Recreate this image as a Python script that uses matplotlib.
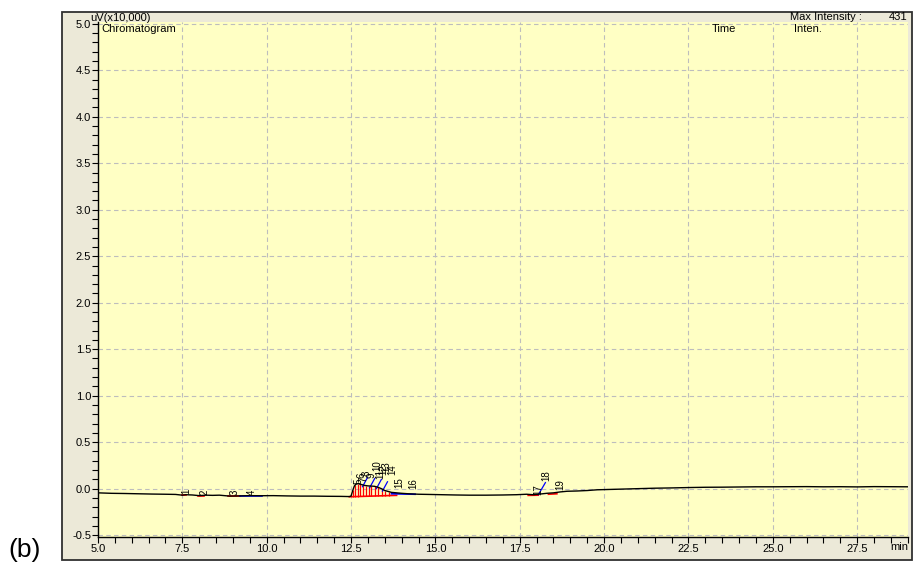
import numpy as np
import matplotlib.pyplot as plt
from matplotlib.patches import Rectangle
from matplotlib.ticker import MultipleLocator

plt.rcParams['font.family'] = ['Liberation Sans', 'DejaVu Sans']

# detector trace, intensity in uV x 10,000
time_min = [5.0, 5.4, 5.8, 6.2, 6.6, 7.0, 7.3, 7.5, 7.6, 7.8, 8.0, 8.2, 8.4, 8.6,
            8.9, 9.2, 9.5, 9.8, 10.2, 10.6, 11.0, 11.4, 11.8, 12.2, 12.45, 12.5,
            12.55, 12.6, 12.65, 12.72, 12.8, 12.9, 13.0, 13.1, 13.2, 13.3, 13.4,
            13.5, 13.6, 13.7, 13.85, 14.0, 14.2, 14.5, 14.8, 15.2, 15.6, 16.0,
            16.5, 17.0, 17.4, 17.7, 17.9, 18.1, 18.3, 18.5, 18.7, 18.9, 19.2,
            19.5, 19.8, 20.2, 20.6, 21.0, 21.5, 22.0, 22.5, 23.0, 23.5, 24.0,
            24.5, 25.0, 25.5, 26.0, 26.5, 27.0, 27.5, 28.0, 28.5, 29.0]
intensity = [-0.045, -0.05, -0.052, -0.055, -0.058, -0.06, -0.062, -0.07, -0.065,
             -0.068, -0.075, -0.07, -0.072, -0.07, -0.08, -0.078, -0.075, -0.076,
             -0.075, -0.078, -0.08, -0.08, -0.082, -0.083, -0.085, -0.08, -0.02,
             0.03, 0.05, 0.055, 0.045, 0.035, 0.03, 0.028, 0.025, 0.015, 0.0,
             -0.02, -0.03, -0.04, -0.045, -0.05, -0.055, -0.06, -0.062, -0.065,
             -0.068, -0.07, -0.07, -0.068, -0.065, -0.06, -0.065, -0.058, -0.05,
             -0.045, -0.035, -0.028, -0.025, -0.02, -0.012, -0.008, -0.004, 0.0,
             0.005, 0.008, 0.012, 0.015, 0.016, 0.018, 0.02, 0.02, 0.021, 0.022,
             0.02, 0.021, 0.019, 0.022, 0.021, 0.02]

# integrated peaks: number, retention time, label height
peak_no = [str(i) for i in range(1, 20)]
peak_rt = [7.62, 8.15, 9.05, 9.55, 12.72, 12.8, 12.88, 12.96, 13.1, 13.28,
           13.36, 13.45, 13.55, 13.73, 13.93, 14.35, 18.05, 18.3, 18.7]
label_y = [-0.03, -0.035, -0.04, -0.035, 0.08, 0.14, 0.1, 0.17, 0.14, 0.25,
           0.16, 0.2, 0.24, 0.2, 0.07, 0.05, -0.01, 0.14, 0.04]

# red drop lines under the main peak cluster
drop_rt = [12.56, 12.63, 12.7, 12.78, 12.86, 12.94, 13.02, 13.1, 13.2, 13.3,
           13.42, 13.52, 13.62]
# blue tangent marks
slant_rt = [12.84, 13.05, 13.25, 13.43]

red_base = [((7.5, 7.62), (-0.07, -0.07)), ((7.95, 8.15), (-0.076, -0.076)),
            ((8.85, 9.2), (-0.082, -0.082)), ((12.45, 13.85), (-0.087, -0.072)),
            ((17.75, 18.05), (-0.072, -0.07)), ((18.35, 18.6), (-0.06, -0.055))]
blue_base = [((9.2, 9.85), (-0.076, -0.076)), ((13.7, 14.4), (-0.055, -0.06))]

fig = plt.figure(figsize=(9.13, 5.73), dpi=100)
fig.patches.append(Rectangle((0.068, 0.023), 0.931, 0.956, transform=fig.transFigure,
                             facecolor='#ECE9D8', edgecolor='#303030', lw=1.3, zorder=-5))

ax = fig.add_axes([0.1073, 0.0628, 0.887, 0.899])
ax.set_zorder(2)
ax.set_facecolor('#FFFFC4')
ax.set_xlim(5.0, 29.0)
ax.set_ylim(-0.52, 5.02)

for xs, ys in red_base:
    ax.plot(xs, ys, color='red', lw=1.2, zorder=3)
for xs, ys in blue_base:
    ax.plot(xs, ys, color='blue', lw=1.2, zorder=3)

base_at = np.interp(drop_rt, [12.45, 13.85], [-0.087, -0.072])
top_at = np.interp(drop_rt, time_min, intensity)
ax.vlines(drop_rt, base_at, top_at, color='red', lw=0.9, zorder=3)

for t in slant_rt:
    y0 = np.interp(t, time_min, intensity)
    ax.plot([t, t + 0.15], [y0 - 0.02, y0 + 0.08], color='blue', lw=0.9, zorder=3)
ax.plot([18.05, 18.26], [-0.065, 0.065], color='blue', lw=0.9, zorder=3)

ax.plot(time_min, intensity, color='black', lw=1.0, zorder=4)

for n, t, y in zip(peak_no, peak_rt, label_y):
    ax.text(t, y, n, rotation=90, fontsize=7, ha='center', va='center', zorder=5)

ax.xaxis.set_minor_locator(MultipleLocator(0.5))
ax.yaxis.set_minor_locator(MultipleLocator(0.1))
ax.set_xticks(np.arange(5.0, 28.0, 2.5))
ax.set_xticklabels([f'{v:.1f}' for v in np.arange(5.0, 28.0, 2.5)])
ax.set_yticks(np.arange(-0.5, 5.01, 0.5))
ax.set_yticklabels([f'{v:.1f}' for v in np.arange(-0.5, 5.01, 0.5)])
ax.tick_params(which='both', direction='out', length=4, width=0.8, labelsize=8, pad=1)
ax.grid(True, which='major', color='#BDBDBD', ls=(0, (4, 3)), lw=0.8)
ax.set_axisbelow(True)
for side in ('top', 'right'):
    ax.spines[side].set_visible(False)
ax.spines['left'].set_linewidth(1.0)
ax.spines['bottom'].set_linewidth(1.0)

ax.text(28.75, -0.575, 'min', fontsize=8, ha='center', va='top')
ax.text(0.004, 0.995, 'Chromatogram', transform=ax.transAxes, fontsize=8, va='top')
ax.text(0.758, 0.995, 'Time', transform=ax.transAxes, fontsize=8, va='top')
ax.text(0.86, 0.995, 'Inten.', transform=ax.transAxes, fontsize=8, va='top')
fig.text(0.099, 0.968, 'uV(x10,000)', fontsize=8, va='center')
fig.text(0.865, 0.971, 'Max Intensity :', fontsize=8, va='center')
fig.text(0.994, 0.971, '431', fontsize=8, va='center', ha='right')
fig.text(0.009, 0.04, '(b)', fontsize=19, va='center')

fig.savefig('out.png', dpi=100)
